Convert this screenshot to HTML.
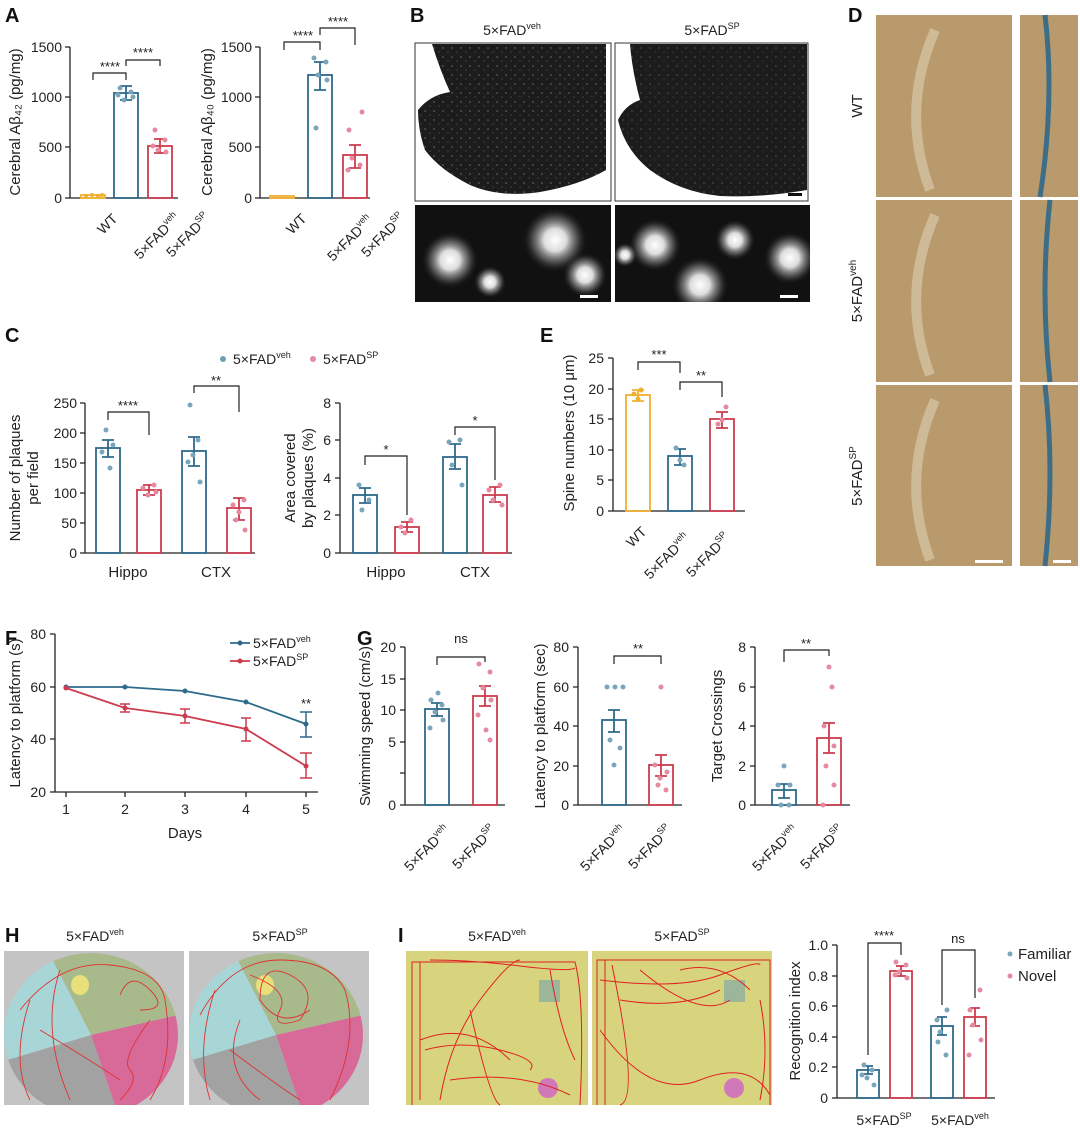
<!DOCTYPE html>
<html><head><meta charset="utf-8"><style>
body{margin:0;background:#fff}
svg{display:block;font-family:"Liberation Sans",Arial,sans-serif}
.ax{stroke:#222;stroke-width:1.3;fill:none}
.t{font-size:14px;fill:#222}
.lb{font-size:15px;fill:#222}
.L{font-size:20px;font-weight:bold;fill:#111}
.bb{fill:none;stroke:#2e6a8a;stroke-width:1.8}
.rb{fill:none;stroke:#cc3c4e;stroke-width:1.8}
.yb{fill:none;stroke:#f0b030;stroke-width:1.8}
.be{stroke:#2e6a8a;stroke-width:1.8}
.re{stroke:#cc3c4e;stroke-width:1.8}
.bd{fill:#7aa6bb}
.rd{fill:#e58aa0}
.sg{stroke:#222;stroke-width:1.2;fill:none}
.st{font-size:13px;fill:#222}
</style></head><body>
<svg width="1080" height="1132" viewBox="0 0 1080 1132">
<defs>
<radialGradient id="pl"><stop offset="0" stop-color="#fff"/><stop offset="0.35" stop-color="#ddd"/><stop offset="0.7" stop-color="#777" stop-opacity=".6"/><stop offset="1" stop-color="#222" stop-opacity="0"/></radialGradient>
<pattern id="sp" width="9" height="9" patternUnits="userSpaceOnUse"><circle cx="2" cy="3" r=".8" fill="#bbb"/><circle cx="7" cy="7" r=".6" fill="#999"/></pattern>
<clipPath id="pc"><rect x="415" y="205" width="196" height="97"/><rect x="615" y="205" width="195" height="97"/></clipPath>
</defs>
<!-- Panel labels -->
<text class="L" x="5" y="22">A</text><text class="L" x="410" y="22">B</text><text class="L" x="848" y="22">D</text>
<text class="L" x="5" y="342">C</text><text class="L" x="540" y="342">E</text>
<text class="L" x="5" y="645">F</text><text class="L" x="357" y="645">G</text>
<text class="L" x="5" y="942">H</text><text class="L" x="398" y="942">I</text>

<!-- A1 -->
<path class="ax" d="M70 47V198H178M65 47H70M65 97H70M65 147H70M65 198H70"/>
<text class="t" x="62" y="52" text-anchor="end">1500</text><text class="t" x="62" y="102" text-anchor="end">1000</text><text class="t" x="62" y="152" text-anchor="end">500</text><text class="t" x="62" y="203" text-anchor="end">0</text>
<text class="lb" transform="translate(20,122) rotate(-90)" text-anchor="middle">Cerebral Aβ₄₂ (pg/mg)</text>
<rect class="yb" x="81" y="195" width="24" height="3"/>
<rect class="bb" x="114" y="93" width="24" height="105"/><path class="be" d="M126 86V100M120 86H132M120 100H132"/>
<rect class="rb" x="148" y="146" width="24" height="52"/><path class="re" d="M160 139V153M154 139H166M154 153H166"/>
<g class="bd"><circle cx="120" cy="88" r="2.5"/><circle cx="131" cy="92" r="2.5"/><circle cx="124" cy="100" r="2.5"/><circle cx="133" cy="97" r="2.5"/><circle cx="118" cy="95" r="2.5"/></g>
<g class="rd"><circle cx="155" cy="130" r="2.5"/><circle cx="165" cy="140" r="2.5"/><circle cx="158" cy="150" r="2.5"/><circle cx="166" cy="152" r="2.5"/><circle cx="153" cy="146" r="2.5"/></g>
<g fill="#f0b030"><circle cx="86" cy="196" r="2"/><circle cx="92" cy="195" r="2"/><circle cx="98" cy="196" r="2"/><circle cx="102" cy="195" r="2"/></g>
<path class="sg" d="M93 80V73H126V80M126 66V60H160V66"/>
<text class="st" x="110" y="71" text-anchor="middle">****</text><text class="st" x="143" y="57" text-anchor="middle">****</text>
<text class="t" transform="translate(103,235) rotate(-45)">WT</text>
<text class="t" transform="translate(140,260) rotate(-45)">5×FAD<tspan font-size="9" dy="-6">veh</tspan></text>
<text class="t" transform="translate(172,258) rotate(-45)">5×FAD<tspan font-size="9" dy="-6">SP</tspan></text>

<!-- A2 -->
<path class="ax" d="M260 47V198H370M255 47H260M255 97H260M255 147H260M255 198H260"/>
<text class="t" x="252" y="52" text-anchor="end">1500</text><text class="t" x="252" y="102" text-anchor="end">1000</text><text class="t" x="252" y="152" text-anchor="end">500</text><text class="t" x="252" y="203" text-anchor="end">0</text>
<text class="lb" transform="translate(212,122) rotate(-90)" text-anchor="middle">Cerebral Aβ₄₀ (pg/mg)</text>
<rect class="yb" x="270" y="196" width="24" height="2"/>
<rect class="bb" x="308" y="75" width="24" height="123"/><path class="be" d="M320 62V90M314 62H326M314 90H326"/>
<rect class="rb" x="343" y="155" width="24" height="43"/><path class="re" d="M355 145V168M349 145H361M349 168H361"/>
<g class="bd"><circle cx="314" cy="58" r="2.5"/><circle cx="326" cy="62" r="2.5"/><circle cx="318" cy="75" r="2.5"/><circle cx="327" cy="80" r="2.5"/><circle cx="316" cy="128" r="2.5"/></g>
<g class="rd"><circle cx="349" cy="130" r="2.5"/><circle cx="362" cy="112" r="2.5"/><circle cx="352" cy="158" r="2.5"/><circle cx="360" cy="165" r="2.5"/><circle cx="348" cy="170" r="2.5"/></g>
<path class="sg" d="M284 50V42H320V50M320 35V28H355V45"/>
<text class="st" x="303" y="40" text-anchor="middle">****</text><text class="st" x="338" y="26" text-anchor="middle">****</text>
<text class="t" transform="translate(292,235) rotate(-45)">WT</text>
<text class="t" transform="translate(333,262) rotate(-45)">5×FAD<tspan font-size="9" dy="-6">veh</tspan></text>
<text class="t" transform="translate(367,258) rotate(-45)">5×FAD<tspan font-size="9" dy="-6">SP</tspan></text>

<!-- B -->
<text class="t" x="512" y="35" text-anchor="middle">5×FAD<tspan font-size="9" dy="-6">veh</tspan></text>
<text class="t" x="712" y="35" text-anchor="middle">5×FAD<tspan font-size="9" dy="-6">SP</tspan></text>
<rect x="415" y="43" width="196" height="158" fill="#fff" stroke="#333"/>
<rect x="615" y="43" width="193" height="158" fill="#fff" stroke="#333"/>
<path d="M432 44H606V170Q580 185 540 192Q500 198 470 185Q440 170 425 150Q418 130 418 110Q430 95 450 92Q440 70 432 44Z" fill="#1c1c1c"/>
<path d="M432 44H606V170Q580 185 540 192Q500 198 470 185Q440 170 425 150Q418 130 418 110Q430 95 450 92Q440 70 432 44Z" fill="url(#sp)" opacity=".5"/>
<path d="M630 44H807V190Q760 198 720 196Q680 192 650 170Q625 150 618 120Q625 105 640 100Q632 70 630 44Z" fill="#1c1c1c"/>
<path d="M630 44H807V190Q760 198 720 196Q680 192 650 170Q625 150 618 120Q625 105 640 100Q632 70 630 44Z" fill="url(#sp)" opacity=".35"/>
<rect x="788" y="193" width="14" height="3" fill="#111"/>
<rect x="415" y="205" width="196" height="97" fill="#111"/>
<rect x="615" y="205" width="195" height="97" fill="#111"/>
<g fill="url(#pl)" clip-path="url(#pc)"><circle cx="450" cy="260" r="28"/><circle cx="555" cy="240" r="32"/><circle cx="490" cy="282" r="16"/><circle cx="585" cy="275" r="22"/>
<circle cx="655" cy="245" r="26"/><circle cx="735" cy="240" r="20"/><circle cx="700" cy="285" r="28"/><circle cx="790" cy="258" r="26"/><circle cx="625" cy="255" r="12"/></g>
<rect x="580" y="295" width="18" height="3" fill="#fff"/><rect x="780" y="295" width="18" height="3" fill="#fff"/>

<!-- D -->
<g fill="#b89a6c"><rect x="876" y="15" width="136" height="182"/><rect x="876" y="200" width="136" height="182"/><rect x="876" y="385" width="136" height="181"/><rect x="1020" y="15" width="58" height="182"/><rect x="1020" y="200" width="58" height="182"/><rect x="1020" y="385" width="58" height="181"/></g>
<g fill="none" stroke="#d8c8a8" stroke-width="10" opacity=".7"><path d="M935 30Q900 110 930 190"/><path d="M935 215Q900 295 930 375"/><path d="M935 400Q900 480 930 560"/></g>
<g fill="none" stroke="#3e6d88" stroke-width="5"><path d="M1045 15Q1055 100 1040 197"/><path d="M1050 200Q1040 290 1050 382"/><path d="M1045 385Q1055 470 1045 566"/></g>
<rect x="975" y="560" width="28" height="3" fill="#fff"/><rect x="1053" y="560" width="18" height="3" fill="#fff"/>
<text class="lb" transform="translate(862,106) rotate(-90)" text-anchor="middle">WT</text>
<text class="lb" transform="translate(862,291) rotate(-90)" text-anchor="middle">5×FAD<tspan font-size="10" dy="-6">veh</tspan></text>
<text class="lb" transform="translate(862,476) rotate(-90)" text-anchor="middle">5×FAD<tspan font-size="10" dy="-6">SP</tspan></text>

<!-- C legend -->
<circle cx="223" cy="359" r="3" fill="#6f9db3"/><text class="t" x="233" y="364">5×FAD<tspan font-size="9" dy="-6">veh</tspan></text>
<circle cx="313" cy="359" r="3" fill="#e58aa0"/><text class="t" x="323" y="364">5×FAD<tspan font-size="9" dy="-6">SP</tspan></text>
<!-- C1 -->
<path class="ax" d="M85 403V553H255M80 403H85M80 433H85M80 463H85M80 493H85M80 523H85M80 553H85"/>
<text class="t" x="77" y="408" text-anchor="end">250</text><text class="t" x="77" y="438" text-anchor="end">200</text><text class="t" x="77" y="468" text-anchor="end">150</text><text class="t" x="77" y="498" text-anchor="end">100</text><text class="t" x="77" y="528" text-anchor="end">50</text><text class="t" x="77" y="558" text-anchor="end">0</text>
<text class="lb" transform="translate(20,478) rotate(-90)" text-anchor="middle">Number of plaques</text>
<text class="lb" transform="translate(38,478) rotate(-90)" text-anchor="middle">per field</text>
<rect class="bb" x="96" y="448" width="24" height="105"/><path class="be" d="M108 440V457M102 440H114M102 457H114"/>
<rect class="rb" x="137" y="490" width="24" height="63"/><path class="re" d="M149 485V495M143 485H155M143 495H155"/>
<rect class="bb" x="182" y="451" width="24" height="102"/><path class="be" d="M194 437V466M188 437H200M188 466H200"/>
<rect class="rb" x="227" y="508" width="24" height="45"/><path class="re" d="M239 498V520M233 498H245M233 520H245"/>
<g class="bd"><circle cx="106" cy="430" r="2.5"/><circle cx="113" cy="445" r="2.5"/><circle cx="102" cy="452" r="2.5"/><circle cx="110" cy="468" r="2.5"/><circle cx="190" cy="405" r="2.5"/><circle cx="198" cy="440" r="2.5"/><circle cx="188" cy="462" r="2.5"/><circle cx="200" cy="482" r="2.5"/><circle cx="193" cy="455" r="2.5"/></g>
<g class="rd"><circle cx="143" cy="488" r="2.5"/><circle cx="154" cy="485" r="2.5"/><circle cx="148" cy="495" r="2.5"/><circle cx="156" cy="492" r="2.5"/><circle cx="233" cy="505" r="2.5"/><circle cx="244" cy="500" r="2.5"/><circle cx="236" cy="520" r="2.5"/><circle cx="245" cy="530" r="2.5"/><circle cx="239" cy="512" r="2.5"/></g>
<path class="sg" d="M108 420V412H149V435M194 393V386H239V412"/>
<text class="st" x="128" y="410" text-anchor="middle">****</text><text class="st" x="216" y="385" text-anchor="middle">**</text>
<text class="lb" x="128" y="577" text-anchor="middle">Hippo</text><text class="lb" x="216" y="577" text-anchor="middle">CTX</text>
<!-- C2 -->
<path class="ax" d="M340 403V553H512M335 403H340M335 440H340M335 478H340M335 515H340M335 553H340"/>
<text class="t" x="331" y="408" text-anchor="end">8</text><text class="t" x="331" y="445" text-anchor="end">6</text><text class="t" x="331" y="483" text-anchor="end">4</text><text class="t" x="331" y="520" text-anchor="end">2</text><text class="t" x="331" y="558" text-anchor="end">0</text>
<text class="lb" transform="translate(295,478) rotate(-90)" text-anchor="middle">Area covered</text>
<text class="lb" transform="translate(313,478) rotate(-90)" text-anchor="middle">by plaques (%)</text>
<rect class="bb" x="353" y="495" width="24" height="58"/><path class="be" d="M365 488V503M359 488H371M359 503H371"/>
<rect class="rb" x="395" y="527" width="24" height="26"/><path class="re" d="M407 522V532M401 522H413M401 532H413"/>
<rect class="bb" x="443" y="457" width="24" height="96"/><path class="be" d="M455 444V469M449 444H461M449 469H461"/>
<rect class="rb" x="483" y="495" width="24" height="58"/><path class="re" d="M495 487V502M489 487H501M489 502H501"/>
<g class="bd"><circle cx="359" cy="485" r="2.5"/><circle cx="369" cy="500" r="2.5"/><circle cx="362" cy="510" r="2.5"/><circle cx="449" cy="442" r="2.5"/><circle cx="460" cy="440" r="2.5"/><circle cx="452" cy="465" r="2.5"/><circle cx="462" cy="485" r="2.5"/></g>
<g class="rd"><circle cx="401" cy="527" r="2.5"/><circle cx="411" cy="520" r="2.5"/><circle cx="405" cy="533" r="2.5"/><circle cx="489" cy="490" r="2.5"/><circle cx="500" cy="485" r="2.5"/><circle cx="493" cy="500" r="2.5"/><circle cx="502" cy="505" r="2.5"/></g>
<path class="sg" d="M365 465V456H407V515M455 435V427H495V480"/>
<text class="st" x="386" y="454" text-anchor="middle">*</text><text class="st" x="475" y="425" text-anchor="middle">*</text>
<text class="lb" x="386" y="577" text-anchor="middle">Hippo</text><text class="lb" x="475" y="577" text-anchor="middle">CTX</text>

<!-- E -->
<path class="ax" d="M613 358V511H745M608 358H613M608 389H613M608 419H613M608 450H613M608 480H613M608 511H613"/>
<text class="t" x="604" y="363" text-anchor="end">25</text><text class="t" x="604" y="394" text-anchor="end">20</text><text class="t" x="604" y="424" text-anchor="end">15</text><text class="t" x="604" y="455" text-anchor="end">10</text><text class="t" x="604" y="485" text-anchor="end">5</text><text class="t" x="604" y="516" text-anchor="end">0</text>
<text class="lb" transform="translate(574,433) rotate(-90)" text-anchor="middle">Spine numbers (10 μm)</text>
<rect class="yb" x="626" y="395" width="24" height="116"/><path d="M638 390V401M632 390H644M632 401H644" stroke="#f0b030" stroke-width="1.8"/>
<rect class="bb" x="668" y="456" width="24" height="55"/><path class="be" d="M680 449V465M674 449H686M674 465H686"/>
<rect class="rb" x="710" y="419" width="24" height="92"/><path class="re" d="M722 412V428M716 412H728M716 428H728"/>
<g fill="#f0b030"><circle cx="634" cy="394" r="2.5"/><circle cx="641" cy="390" r="2.5"/><circle cx="638" cy="399" r="2.5"/></g>
<g class="bd"><circle cx="676" cy="448" r="2.5"/><circle cx="684" cy="465" r="2.5"/><circle cx="680" cy="460" r="2.5"/></g>
<g class="rd"><circle cx="718" cy="424" r="2.5"/><circle cx="726" cy="407" r="2.5"/><circle cx="722" cy="420" r="2.5"/></g>
<path class="sg" d="M638 370V362H680V373M680 390V382H722V397"/>
<text class="st" x="659" y="359" text-anchor="middle">***</text><text class="st" x="701" y="380" text-anchor="middle">**</text>
<text class="t" transform="translate(632,548) rotate(-45)">WT</text>
<text class="t" transform="translate(650,580) rotate(-45)">5×FAD<tspan font-size="9" dy="-6">veh</tspan></text>
<text class="t" transform="translate(692,578) rotate(-45)">5×FAD<tspan font-size="9" dy="-6">SP</tspan></text>

<!-- F -->
<path class="ax" d="M55 634V792H318M50 634H55M50 687H55M50 739H55M50 792H55M66 792V797M125 792V797M185 792V797M246 792V797M306 792V797"/>
<text class="t" x="46" y="639" text-anchor="end">80</text><text class="t" x="46" y="692" text-anchor="end">60</text><text class="t" x="46" y="744" text-anchor="end">40</text><text class="t" x="46" y="797" text-anchor="end">20</text>
<text class="t" x="66" y="814" text-anchor="middle">1</text><text class="t" x="125" y="814" text-anchor="middle">2</text><text class="t" x="185" y="814" text-anchor="middle">3</text><text class="t" x="246" y="814" text-anchor="middle">4</text><text class="t" x="306" y="814" text-anchor="middle">5</text>
<text class="lb" x="185" y="838" text-anchor="middle">Days</text>
<text class="lb" transform="translate(20,713) rotate(-90)" text-anchor="middle">Latency to platform (s)</text>
<path d="M66 687H125L185 691L246 702L306 724" fill="none" stroke="#2e6a8a" stroke-width="1.8"/>
<path d="M306 712V737M300 712H312M300 737H312" stroke="#2e6a8a" stroke-width="1.5"/>
<g fill="#2e6a8a"><circle cx="66" cy="687" r="2.5"/><circle cx="125" cy="687" r="2.5"/><circle cx="185" cy="691" r="2.5"/><circle cx="246" cy="702" r="2.5"/><circle cx="306" cy="724" r="2.5"/></g>
<path d="M66 688L125 708L185 716L246 729L306 766" fill="none" stroke="#cc3c4e" stroke-width="1.8"/>
<path d="M125 704V712M185 709V723M246 718V741M306 753V778M120 704H130M120 712H130M180 709H190M180 723H190M241 718H251M241 741H251M300 753H312M300 778H312" stroke="#cc3c4e" stroke-width="1.5"/>
<g fill="#cc3c4e"><circle cx="66" cy="688" r="2.5"/><circle cx="125" cy="708" r="2.5"/><circle cx="185" cy="716" r="2.5"/><circle cx="246" cy="729" r="2.5"/><circle cx="306" cy="766" r="2.5"/></g>
<text class="st" x="306" y="708" text-anchor="middle">**</text>
<path d="M230 643H250" stroke="#2e6a8a" stroke-width="1.8"/><circle cx="240" cy="643" r="2.5" fill="#2e6a8a"/>
<text class="t" x="253" y="648">5×FAD<tspan font-size="9" dy="-6">veh</tspan></text>
<path d="M230 661H250" stroke="#cc3c4e" stroke-width="1.8"/><circle cx="240" cy="661" r="2.5" fill="#cc3c4e"/>
<text class="t" x="253" y="666">5×FAD<tspan font-size="9" dy="-6">SP</tspan></text>

<!-- G1 -->
<path class="ax" d="M405 647V805H505M400 647H405M400 679H405M400 710H405M400 742H405M400 773H405M400 805H405"/>
<text class="t" x="396" y="652" text-anchor="end">20</text><text class="t" x="396" y="684" text-anchor="end">15</text><text class="t" x="396" y="715" text-anchor="end">10</text><text class="t" x="396" y="747" text-anchor="end">5</text><text class="t" x="396" y="810" text-anchor="end">0</text>
<text class="lb" transform="translate(370,726) rotate(-90)" text-anchor="middle">Swimming speed (cm/s)</text>
<rect class="bb" x="425" y="709" width="24" height="96"/><path class="be" d="M437 703V716M431 703H443M431 716H443"/>
<rect class="rb" x="473" y="696" width="24" height="109"/><path class="re" d="M485 686V706M479 686H491M479 706H491"/>
<g class="bd"><circle cx="431" cy="700" r="2.5"/><circle cx="442" cy="705" r="2.5"/><circle cx="435" cy="712" r="2.5"/><circle cx="443" cy="720" r="2.5"/><circle cx="430" cy="728" r="2.5"/><circle cx="438" cy="693" r="2.5"/></g>
<g class="rd"><circle cx="479" cy="664" r="2.5"/><circle cx="490" cy="672" r="2.5"/><circle cx="483" cy="688" r="2.5"/><circle cx="491" cy="700" r="2.5"/><circle cx="478" cy="715" r="2.5"/><circle cx="486" cy="730" r="2.5"/><circle cx="490" cy="740" r="2.5"/></g>
<path class="sg" d="M437 665V657H485V662"/><text class="st" x="461" y="643" text-anchor="middle" font-size="15">ns</text>
<text class="t" transform="translate(410,872) rotate(-45)">5×FAD<tspan font-size="9" dy="-6">veh</tspan></text>
<text class="t" transform="translate(458,870) rotate(-45)">5×FAD<tspan font-size="9" dy="-6">SP</tspan></text>
<!-- G2 -->
<path class="ax" d="M578 647V805H682M573 647H578M573 687H578M573 726H578M573 766H578M573 805H578"/>
<text class="t" x="569" y="652" text-anchor="end">80</text><text class="t" x="569" y="692" text-anchor="end">60</text><text class="t" x="569" y="731" text-anchor="end">40</text><text class="t" x="569" y="771" text-anchor="end">20</text><text class="t" x="569" y="810" text-anchor="end">0</text>
<text class="lb" transform="translate(545,726) rotate(-90)" text-anchor="middle">Latency to platform (sec)</text>
<rect class="bb" x="602" y="720" width="24" height="85"/><path class="be" d="M614 710V732M608 710H620M608 732H620"/>
<rect class="rb" x="649" y="765" width="24" height="40"/><path class="re" d="M661 755V776M655 755H667M655 776H667"/>
<g class="bd"><circle cx="607" cy="687" r="2.5"/><circle cx="615" cy="687" r="2.5"/><circle cx="623" cy="687" r="2.5"/><circle cx="610" cy="740" r="2.5"/><circle cx="620" cy="748" r="2.5"/><circle cx="614" cy="765" r="2.5"/></g>
<g class="rd"><circle cx="661" cy="687" r="2.5"/><circle cx="655" cy="765" r="2.5"/><circle cx="667" cy="772" r="2.5"/><circle cx="658" cy="785" r="2.5"/><circle cx="666" cy="790" r="2.5"/><circle cx="660" cy="778" r="2.5"/></g>
<path class="sg" d="M614 664V656H661V664"/><text class="st" x="638" y="653" text-anchor="middle">**</text>
<text class="t" transform="translate(586,872) rotate(-45)">5×FAD<tspan font-size="9" dy="-6">veh</tspan></text>
<text class="t" transform="translate(634,870) rotate(-45)">5×FAD<tspan font-size="9" dy="-6">SP</tspan></text>
<!-- G3 -->
<path class="ax" d="M755 647V805H850M750 647H755M750 687H755M750 726H755M750 766H755M750 805H755"/>
<text class="t" x="746" y="652" text-anchor="end">8</text><text class="t" x="746" y="692" text-anchor="end">6</text><text class="t" x="746" y="731" text-anchor="end">4</text><text class="t" x="746" y="771" text-anchor="end">2</text><text class="t" x="746" y="810" text-anchor="end">0</text>
<text class="lb" transform="translate(722,726) rotate(-90)" text-anchor="middle">Target Crossings</text>
<rect class="bb" x="772" y="790" width="24" height="15"/><path class="be" d="M784 784V798M778 784H790M778 798H790"/>
<rect class="rb" x="817" y="738" width="24" height="67"/><path class="re" d="M829 723V753M823 723H835M823 753H835"/>
<g class="bd"><circle cx="784" cy="766" r="2.5"/><circle cx="778" cy="785" r="2.5"/><circle cx="790" cy="785" r="2.5"/><circle cx="781" cy="805" r="2.5"/><circle cx="789" cy="805" r="2.5"/></g>
<g class="rd"><circle cx="829" cy="667" r="2.5"/><circle cx="832" cy="687" r="2.5"/><circle cx="824" cy="726" r="2.5"/><circle cx="834" cy="746" r="2.5"/><circle cx="826" cy="766" r="2.5"/><circle cx="834" cy="785" r="2.5"/><circle cx="823" cy="805" r="2.5"/></g>
<path class="sg" d="M784 662V650H829V656"/><text class="st" x="806" y="648" text-anchor="middle">**</text>
<text class="t" transform="translate(758,872) rotate(-45)">5×FAD<tspan font-size="9" dy="-6">veh</tspan></text>
<text class="t" transform="translate(806,870) rotate(-45)">5×FAD<tspan font-size="9" dy="-6">SP</tspan></text>

<!-- H -->
<text class="t" x="95" y="941" text-anchor="middle">5×FAD<tspan font-size="9" dy="-6">veh</tspan></text>
<text class="t" x="280" y="941" text-anchor="middle">5×FAD<tspan font-size="9" dy="-6">SP</tspan></text>
<rect x="4" y="951" width="180" height="154" fill="#c4c4c4"/><rect x="189" y="951" width="180" height="154" fill="#c4c4c4"/>
<clipPath id="c1"><ellipse cx="91" cy="1035" rx="87" ry="82"/></clipPath>
<clipPath id="c2"><ellipse cx="276" cy="1035" rx="87" ry="82"/></clipPath>
<clipPath id="cb"><rect x="0" y="951" width="1080" height="154"/></clipPath>
<g clip-path="url(#cb)">
<g clip-path="url(#c1)">
<path d="M91 1035L48 951H200V1010Z" fill="#a8b98c"/>
<path d="M91 1035L200 1010V1120H120Z" fill="#d86a9a"/>
<path d="M91 1035L120 1120H0V1062Z" fill="#a2a2a2"/>
<path d="M91 1035L0 1062V951H48Z" fill="#a8d6d6"/>
</g>
<g clip-path="url(#c2)">
<path d="M276 1035L233 951H385V1010Z" fill="#a8b98c"/>
<path d="M276 1035L385 1010V1120H305Z" fill="#d86a9a"/>
<path d="M276 1035L305 1120H185V1062Z" fill="#a2a2a2"/>
<path d="M276 1035L185 1062V951H233Z" fill="#a8d6d6"/>
</g>
</g>
<ellipse cx="80" cy="985" rx="9" ry="10" fill="#e8e07a"/><ellipse cx="265" cy="985" rx="9" ry="10" fill="#e8e07a"/>
<g fill="none" stroke="#e03030" stroke-width="0.9" clip-path="url(#cb)">
<path d="M20 1010Q60 960 110 965T165 1000Q175 1060 150 1100M30 1000Q10 1060 30 1100M60 970Q40 1030 70 1100M120 995Q130 970 150 990T140 1010M150 1020Q120 1060 130 1070T120 1100M40 1030Q90 1060 120 1080"/>
<path d="M200 1015Q230 960 280 960T345 990Q360 1040 330 1100M215 990Q195 1050 210 1100M250 975Q290 990 280 1010T300 1020Q320 990 290 975T260 1000Q280 1030 310 1010M230 1050Q270 1080 300 1100M240 1020Q220 1070 260 1100"/>
</g>

<!-- I -->
<text class="t" x="497" y="941" text-anchor="middle">5×FAD<tspan font-size="9" dy="-6">veh</tspan></text>
<text class="t" x="682" y="941" text-anchor="middle">5×FAD<tspan font-size="9" dy="-6">SP</tspan></text>
<rect x="406" y="951" width="182" height="154" fill="#d8d47e"/><rect x="592" y="951" width="180" height="154" fill="#d8d47e"/>
<rect x="539" y="980" width="21" height="22" fill="#9cb69a"/><rect x="724" y="980" width="21" height="22" fill="#9cb69a"/>
<circle cx="548" cy="1088" r="10" fill="#d078b8"/><circle cx="734" cy="1088" r="10" fill="#d078b8"/>
<g fill="none" stroke="#e02020" stroke-width="1">
<path d="M412 1105V962H575Q585 1000 580 1105M420 962V1100M430 960Q470 960 520 966T575 968M440 1100Q450 1040 480 1000T520 960M425 1050Q460 1040 500 1050T530 1070M420 1040Q470 1020 510 1060M450 1080Q520 1070 570 1095M550 970Q560 1030 575 1060M470 1010Q490 1100 500 1105"/>
<path d="M597 1105V960H770V1105M605 960V1105M612 965Q640 1100 620 1105M600 980Q680 990 720 975T760 965M620 1000Q680 1010 720 990M640 970Q700 1020 730 1000M600 1030Q650 1100 700 1080T770 1095M760 1000Q770 1050 760 1100M680 970Q720 960 750 990"/>
</g>
<!-- I chart -->
<path class="ax" d="M837 945V1098H995M832 945H837M832 976H837M832 1006H837M832 1037H837M832 1067H837M832 1098H837"/>
<text class="t" x="828" y="950" text-anchor="end">1.0</text><text class="t" x="828" y="981" text-anchor="end">0.8</text><text class="t" x="828" y="1011" text-anchor="end">0.6</text><text class="t" x="828" y="1042" text-anchor="end">0.4</text><text class="t" x="828" y="1072" text-anchor="end">0.2</text><text class="t" x="828" y="1103" text-anchor="end">0</text>
<text class="lb" transform="translate(800,1021) rotate(-90)" text-anchor="middle">Recognition index</text>
<rect class="bb" x="857" y="1070" width="22" height="28"/><path class="be" d="M868 1066V1074M863 1066H873M863 1074H873"/>
<rect class="rb" x="890" y="971" width="22" height="127"/><path class="re" d="M901 966V976M896 966H906M896 976H906"/>
<rect class="bb" x="931" y="1026" width="22" height="72"/><path class="be" d="M942 1017V1035M937 1017H947M937 1035H947"/>
<rect class="rb" x="964" y="1017" width="22" height="81"/><path class="re" d="M975 1008V1026M970 1008H980M970 1026H980"/>
<g class="bd"><circle cx="864" cy="1065" r="2.5"/><circle cx="872" cy="1070" r="2.5"/><circle cx="867" cy="1078" r="2.5"/><circle cx="874" cy="1085" r="2.5"/><circle cx="862" cy="1075" r="2.5"/><circle cx="937" cy="1020" r="2.5"/><circle cx="947" cy="1010" r="2.5"/><circle cx="940" cy="1032" r="2.5"/><circle cx="946" cy="1055" r="2.5"/><circle cx="938" cy="1042" r="2.5"/></g>
<g class="rd"><circle cx="896" cy="962" r="2.5"/><circle cx="906" cy="965" r="2.5"/><circle cx="899" cy="972" r="2.5"/><circle cx="907" cy="978" r="2.5"/><circle cx="895" cy="975" r="2.5"/><circle cx="970" cy="1010" r="2.5"/><circle cx="980" cy="990" r="2.5"/><circle cx="973" cy="1025" r="2.5"/><circle cx="981" cy="1040" r="2.5"/><circle cx="969" cy="1055" r="2.5"/></g>
<path class="sg" d="M868 1055V943H901V955M942 1005V950H975V998"/>
<text class="st" x="884" y="940" text-anchor="middle">****</text><text class="st" x="958" y="943" text-anchor="middle" font-size="15">ns</text>
<text class="t" x="884" y="1125" text-anchor="middle">5×FAD<tspan font-size="9" dy="-6">SP</tspan></text>
<text class="t" x="960" y="1125" text-anchor="middle">5×FAD<tspan font-size="9" dy="-6">veh</tspan></text>
<circle cx="1010" cy="954" r="2.5" fill="#7aa6bb"/><text class="lb" x="1018" y="959">Familiar</text>
<circle cx="1010" cy="976" r="2.5" fill="#e58aa0"/><text class="lb" x="1018" y="981">Novel</text>
</svg>
</body></html>
